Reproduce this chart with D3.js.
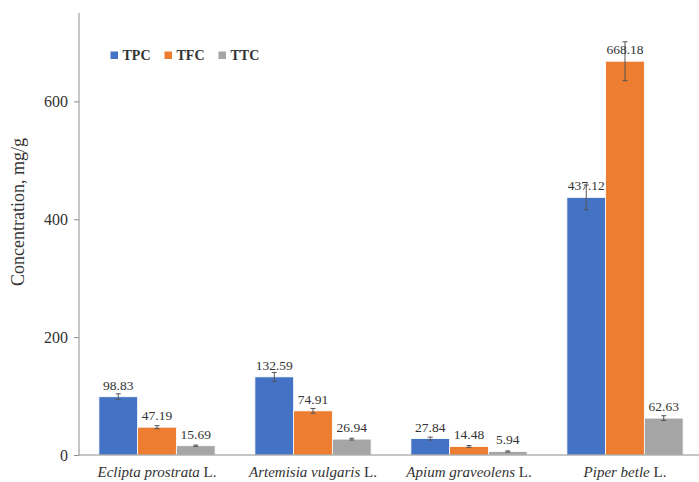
<!DOCTYPE html>
<html>
<head>
<meta charset="utf-8">
<script src="https://cdn.jsdelivr.net/npm/d3@7"></script>
<style>
  html, body { margin: 0; padding: 0; background: #fff; }
  svg { display: block; }
  text { font-family: "Liberation Serif", "Times New Roman", serif; fill: #333; }
</style>
</head>
<body>
<script>
// Plant extracts and their measured contents (mg/g)
const species = [
  ["Eclipta prostrata", " L."],
  ["Artemisia vulgaris", " L."],
  ["Apium graveolens", " L."],
  ["Piper betle", " L."]
];
const seriesNames = ["TPC", "TFC", "TTC"];
const seriesColors = ["#4472C4", "#ED7D31", "#A5A5A5"];
const tpc = [98.83, 132.59, 27.84, 437.12];
const tfc = [47.19, 74.91, 14.48, 668.18];
const ttc = [15.69, 26.94, 5.94, 62.63];
const tpcErr = [5, 7.5, 2.5, 21];
const tfcErr = [2.5, 4, 1.5, 33];
const ttcErr = [1.2, 1.5, 1, 4];
const yTicks = [0, 200, 400, 600];

const values = [tpc, tfc, ttc];
const errors = [tpcErr, tfcErr, ttcErr];

const W = 699, H = 482;
const svg = d3.select("body").append("svg").attr("width", W).attr("height", H);

const x0 = d3.scaleBand().domain(d3.range(species.length)).range([79, 703]).paddingInner(0.255).paddingOuter(0.1275);
const x1 = d3.scaleBand().domain(d3.range(seriesNames.length)).range([0, x0.bandwidth()]);
const y = d3.scaleLinear().domain([0, 750]).range([455, 13]);

// y axis
const yAxis = d3.axisLeft(y).tickValues(yTicks).tickSize(5).tickPadding(6).tickFormat(d3.format("d"));
const gy = svg.append("g").attr("transform", "translate(79,0)").call(yAxis);
gy.attr("font-family", null).attr("font-size", null);
gy.select(".domain").attr("stroke", "#8c8c8c").attr("d", `M0,${y(750)}V${y(0)}`);
gy.selectAll(".tick line").attr("stroke", "#8c8c8c");
gy.selectAll(".tick text").attr("font-size", 16).attr("fill", "#333");

svg.append("text")
  .attr("transform", `translate(24,212) rotate(-90)`)
  .attr("text-anchor", "middle")
  .attr("font-size", 18)
  .text("Concentration, mg/g");

// bars
const groups = svg.append("g").selectAll("g")
  .data(species.map((s, i) => i))
  .join("g")
  .attr("transform", i => `translate(${x0(i)},0)`);

const cells = groups.selectAll("g.cell")
  .data(i => seriesNames.map((n, k) => ({ k, v: values[k][i], e: errors[k][i] })))
  .join("g").attr("class", "cell");

cells.append("rect")
  .attr("x", d => x1(d.k))
  .attr("width", x1.bandwidth())
  .attr("y", d => y(d.v))
  .attr("height", d => y(0) - y(d.v))
  .attr("fill", d => seriesColors[d.k])
  .attr("stroke", "#fff").attr("stroke-width", 0.8);

// error bars
cells.append("path")
  .attr("d", d => {
    const cx = x1(d.k) + x1.bandwidth() / 2;
    const t = y(d.v + d.e), b = y(d.v - d.e);
    return `M${cx},${t}V${b}M${cx - 2.5},${t}H${cx + 2.5}M${cx - 2.5},${b}H${cx + 2.5}`;
  })
  .attr("stroke", "#555").attr("stroke-width", 1).attr("fill", "none");

// value labels
cells.append("text")
  .attr("x", d => x1(d.k) + x1.bandwidth() / 2)
  .attr("y", d => y(d.v) - 7)
  .attr("text-anchor", "middle")
  .attr("font-size", 13.5)
  .text(d => d.v.toFixed(2));

// baseline
svg.append("line")
  .attr("x1", 79).attr("x2", W).attr("y1", y(0)).attr("y2", y(0))
  .attr("stroke", "#8c8c8c").attr("stroke-width", 1);

// category labels
const cat = svg.append("g").selectAll("text")
  .data(species)
  .join("text")
  .attr("x", (d, i) => x0(i) + x0.bandwidth() / 2)
  .attr("y", 477)
  .attr("text-anchor", "middle")
  .attr("font-size", 15);
cat.append("tspan").attr("font-style", "italic").text(d => d[0]);
cat.append("tspan").text(d => d[1]);

// legend
const leg = svg.append("g").selectAll("g")
  .data(seriesNames)
  .join("g")
  .attr("transform", (d, i) => `translate(${110.5 + i * 54},55)`);
leg.append("rect").attr("x", 0).attr("y", -3.5).attr("width", 7.5).attr("height", 7.5)
  .attr("fill", (d, i) => seriesColors[i]);
leg.append("text").attr("x", 12).attr("y", 5)
  .attr("font-size", 14).attr("font-weight", "bold").attr("fill", "#333")
  .text(d => d);
</script>
</body>
</html>
